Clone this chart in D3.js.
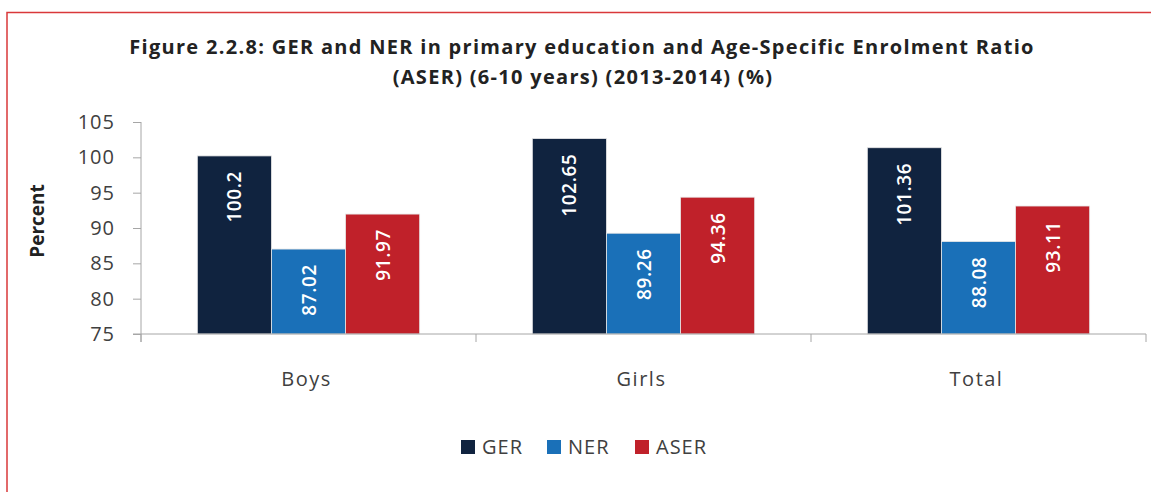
<!DOCTYPE html>
<html>
<head>
<meta charset="utf-8">
<script src="https://cdn.jsdelivr.net/npm/d3@7"></script>
<style>
  body { margin: 0; background: #fff; }
  svg { display: block; }
</style>
</head>
<body>
<svg id="chart" width="1151" height="492"></svg>
<script>
var categories = ['Boys', 'Girls', 'Total'];
var seriesNames = ['GER', 'NER', 'ASER'];
var GER = [100.2, 102.65, 101.36];
var NER = [87.02, 89.26, 88.08];
var ASER = [91.97, 94.36, 93.11];
var yTicks = [75, 80, 85, 90, 95, 100, 105];
var colors = ['#10233f', '#1a70b8', '#c0212a'];
var FONT = '"Open Sans", Lato, sans-serif';

var series = [GER, NER, ASER];
var svg = d3.select('#chart');

// red frame
svg.append('path')
    .attr('d', 'M7,492 L7,12.5 L1151,12.5')
    .attr('fill', 'none')
    .attr('stroke', '#d9383a')
    .attr('stroke-width', 1.5);

// title
var title = svg.append('text')
    .attr('text-anchor', 'middle')
    .style('font-family', FONT)
    .style('font-weight', 'bold')
    .style('font-size', '20px')
    .style('letter-spacing', '1.3px')
    .attr('fill', '#222');
title.append('tspan').attr('x', 582).attr('y', 54)
    .text('Figure 2.2.8: GER and NER in primary education and Age-Specific Enrolment Ratio');
title.append('tspan').attr('x', 583).attr('y', 84)
    .text('(ASER) (6-10 years) (2013-2014) (%)');

var plotL = 141, plotR = 1146, plotT = 122, plotB = 334;

var x0 = d3.scaleBand().domain(categories).range([plotL, plotR]);
var x1 = d3.scaleBand().domain(seriesNames)
    .range([0, x0.bandwidth()]).paddingInner(0).paddingOuter(0.76);
var y = d3.scaleLinear().domain([75, 105]).range([plotB, plotT]);

// bars
var groups = svg.selectAll('.grp')
    .data(categories)
    .enter().append('g')
    .attr('class', 'grp')
    .attr('transform', function (d) { return 'translate(' + x0(d) + ',0)'; });

seriesNames.forEach(function (s, si) {
    groups.append('rect')
        .attr('x', function (d) { return x1(s); })
        .attr('y', function (d, i) { return y(series[si][i]); })
        .attr('width', x1.bandwidth())
        .attr('height', function (d, i) { return y(75) - y(series[si][i]); })
        .attr('fill', colors[si])
        .attr('stroke', '#e6e6e6')
        .attr('stroke-width', 0.8);
    groups.append('text')
        .attr('transform', function (d, i) {
            var cx = x1(s) + x1.bandwidth() / 2 + 7;
            var cy = y(series[si][i]) + 15;
            return 'translate(' + cx + ',' + cy + ') rotate(-90)';
        })
        .attr('text-anchor', 'end')
        .style('font-family', FONT)
        .style('font-weight', 600)
        .style('font-size', '19px')
        .style('letter-spacing', '0.6px')
        .attr('fill', '#fff')
        .text(function (d, i) { return series[si][i]; });
});

// y axis
var yAxis = svg.append('g')
    .attr('transform', 'translate(' + plotL + ',0)')
    .call(d3.axisLeft(y).tickValues(yTicks).tickSize(8).tickPadding(18));
yAxis.select('.domain').attr('stroke', '#a6a6a6').attr('d', 'M0,' + plotT + 'V' + (plotB + 8));
yAxis.selectAll('.tick line').attr('stroke', '#a6a6a6');
yAxis.selectAll('.tick text')
    .style('font-family', FONT)
    .style('font-size', '20px')
    .style('letter-spacing', '1px')
    .attr('fill', '#404040');

// x axis
var xAxis = svg.append('g')
    .attr('transform', 'translate(0,' + plotB + ')');
xAxis.append('line')
    .attr('x1', plotL - 8).attr('x2', plotR)
    .attr('stroke', '#a6a6a6');
xAxis.selectAll('.xt')
    .data(categories.concat(['end']))
    .enter().append('line')
    .attr('x1', function (d, i) { return i < 3 ? x0(d) : plotR; })
    .attr('x2', function (d, i) { return i < 3 ? x0(d) : plotR; })
    .attr('y1', 0).attr('y2', 8)
    .attr('stroke', '#a6a6a6');
xAxis.selectAll('.xl')
    .data(categories)
    .enter().append('text')
    .attr('x', function (d) { return x0(d) + x0.bandwidth() / 2 - 2; })
    .attr('y', 52)
    .attr('text-anchor', 'middle')
    .style('font-family', FONT)
    .style('font-size', '20px')
    .style('letter-spacing', '1.5px')
    .attr('fill', '#404040')
    .text(function (d) { return d; });

// y axis title
svg.append('text')
    .attr('transform', 'translate(44,221) rotate(-90)')
    .attr('text-anchor', 'middle')
    .style('font-family', FONT)
    .style('font-weight', 'bold')
    .style('font-size', '19px')
    .attr('fill', '#222')
    .text('Percent');

// legend
var legX = [461, 547, 635];
var legend = svg.selectAll('.leg')
    .data(seriesNames)
    .enter().append('g')
    .attr('transform', function (d, i) { return 'translate(' + legX[i] + ',440)'; });
legend.append('rect')
    .attr('width', 14).attr('height', 14)
    .attr('fill', function (d, i) { return colors[i]; });
legend.append('text')
    .attr('x', 21).attr('y', 14)
    .style('font-family', FONT)
    .style('font-size', '20px')
    .style('letter-spacing', '1px')
    .attr('fill', '#404040')
    .text(function (d) { return d; });
</script>
</body>
</html>
